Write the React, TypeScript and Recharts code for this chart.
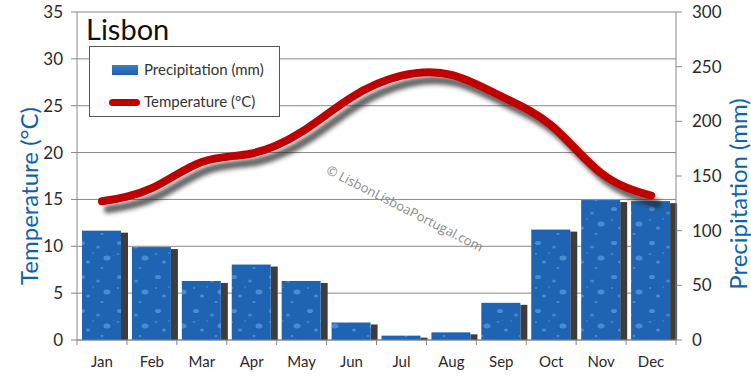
import React from 'react';
import { ComposedChart, Bar, Line, XAxis, YAxis, CartesianGrid } from 'recharts';

const months = ['Jan', 'Feb', 'Mar', 'Apr', 'May', 'Jun', 'Jul', 'Aug', 'Sep', 'Oct', 'Nov', 'Dec'];
const precipitation = [100, 85, 54, 69, 54, 16, 4, 7, 34, 101, 128, 127];
const temperature = [14.8, 16.2, 19.0, 19.9, 22.2, 25.9, 28.2, 28.3, 26.0, 22.9, 17.8, 15.4];
const tempTicks = [0, 5, 10, 15, 20, 25, 30, 35];
const rainTicks = [0, 50, 100, 150, 200, 250, 300];

const data = months.map((month, i) => ({
  month,
  precipitation: precipitation[i],
  temperature: temperature[i]
}));

const W = 751;
const H = 376;
const PLOT_LEFT = 77;
const PLOT_RIGHT = 676;
const PLOT_BOTTOM = 340;
const BAND = (PLOT_RIGHT - PLOT_LEFT) / months.length;
const FONT = 'Lato, "Open Sans", sans-serif';
const BLUE = '#0b63b0';

const MonthTick = (props: any) => {
  const { x, y, payload, index } = props;
  return (
    <g>
      <line x1={x - BAND / 2} x2={x - BAND / 2} y1={PLOT_BOTTOM} y2={PLOT_BOTTOM + 5} stroke="#888" />
      {index === months.length - 1 && (
        <line x1={x + BAND / 2} x2={x + BAND / 2} y1={PLOT_BOTTOM} y2={PLOT_BOTTOM + 5} stroke="#888" />
      )}
      <text x={x} y={y} dy="0.71em" textAnchor="middle" fontSize={15} fill="#2a2a2a" fontFamily={FONT}>
        {payload.value}
      </text>
    </g>
  );
};

// bar with drop texture and dark side shadow
const RainBar = (props: any) => {
  const { x, y, width, height } = props;
  if (!height || height <= 0) return null;
  return (
    <g>
      <rect x={x + width} y={y + 2} width={7} height={Math.max(height - 2, 0)} fill="#3c3c3c" filter="url(#soft)" />
      <rect x={x} y={y} width={width} height={height} fill="url(#drops)" />
    </g>
  );
};

const LegendBox = () => (
  <div
    style={{
      position: 'absolute',
      left: 89,
      top: 46,
      width: 191,
      height: 71,
      border: '1px solid #555',
      background: '#fff',
      fontFamily: FONT,
      fontSize: 15,
      color: '#333',
      boxSizing: 'border-box'
    }}
  >
    <div style={{ position: 'absolute', left: 22, top: 18, width: 26, height: 10, background: 'linear-gradient(#3a80c8, #1d5fa8)' }} />
    <div style={{ position: 'absolute', left: 54, top: 13 }}>Precipitation (mm)</div>
    <div style={{ position: 'absolute', left: 19, top: 52, width: 31, height: 7, borderRadius: 4, background: '#c00000' }} />
    <div style={{ position: 'absolute', left: 54, top: 45 }}>Temperature (°C)</div>
  </div>
);

export default function App() {
  return (
    <div style={{ position: 'absolute', left: 0, top: 0, width: W, height: H, background: '#fff', fontFamily: FONT }}>
      <ComposedChart width={W} height={H} data={data} margin={{ top: 12, right: 0, bottom: 0, left: 0 }}>
        <defs>
          <pattern id="drops" width="38" height="34" patternUnits="userSpaceOnUse">
            <rect width="38" height="34" fill="#1f64b2" />
            <ellipse cx="6" cy="5" rx="3" ry="2" fill="#5a9de0" opacity="0.7" />
            <ellipse cx="22" cy="9" rx="2" ry="1.5" fill="#5a9de0" opacity="0.6" />
            <ellipse cx="31" cy="20" rx="3.5" ry="2.5" fill="#5a9de0" opacity="0.7" />
            <ellipse cx="12" cy="24" rx="2" ry="1.5" fill="#6aa8e6" opacity="0.6" />
            <ellipse cx="26" cy="30" rx="1.5" ry="1" fill="#6aa8e6" opacity="0.6" />
            <ellipse cx="4" cy="16" rx="1.2" ry="1" fill="#6aa8e6" opacity="0.5" />
            <ellipse cx="17" cy="15" rx="1" ry="0.8" fill="#7ab2ea" opacity="0.5" />
          </pattern>
          <filter id="soft" x="-50%" y="-10%" width="200%" height="120%">
            <feGaussianBlur stdDeviation="0.6" />
          </filter>
          <filter id="lineShadow" x="-10%" y="-30%" width="130%" height="180%">
            <feDropShadow dx="6" dy="8" stdDeviation="2" floodColor="#222" floodOpacity="0.7" />
          </filter>
        </defs>
        <CartesianGrid vertical={false} stroke="#888" yAxisId="temp" />
        <XAxis
          dataKey="month"
          height={36}
          axisLine={{ stroke: '#888' }}
          tickLine={false}
          tickSize={6}
          tickMargin={10}
          tick={<MonthTick />}
          interval={0}
        />
        <YAxis
          yAxisId="temp"
          width={PLOT_LEFT}
          domain={[0, 35]}
          ticks={tempTicks}
          axisLine={{ stroke: '#888' }}
          tickLine={{ stroke: '#888' }}
          tickSize={6}
          tickMargin={8}
          tick={{ fontSize: 17, fill: '#2a2a2a', fontFamily: FONT }}
        />
        <YAxis
          yAxisId="rain"
          orientation="right"
          width={W - PLOT_RIGHT}
          domain={[0, 300]}
          ticks={rainTicks}
          axisLine={{ stroke: '#888' }}
          tickLine={{ stroke: '#888' }}
          tickSize={6}
          tickMargin={10}
          tick={{ fontSize: 17, fill: '#2a2a2a', fontFamily: FONT, textAnchor: 'start' }}
        />
        <Bar yAxisId="rain" dataKey="precipitation" barSize={39} shape={<RainBar />} isAnimationActive={false} />
        <Line
          yAxisId="temp"
          type="natural"
          dataKey="temperature"
          stroke="#c00000"
          strokeWidth={8}
          strokeLinecap="round"
          dot={false}
          activeDot={false}
          filter="url(#lineShadow)"
          isAnimationActive={false}
        />
      </ComposedChart>

      <div style={{ position: 'absolute', left: 86, top: 14, fontSize: 29, color: '#111', lineHeight: 1 }}>Lisbon</div>
      <LegendBox />
      <div
        style={{
          position: 'absolute',
          left: 405,
          top: 208,
          transform: 'translate(-50%, -50%) rotate(27deg)',
          whiteSpace: 'nowrap',
          fontFamily: '"Open Sans", sans-serif',
          fontSize: 13,
          color: '#8a8a8a'
        }}
      >
        © LisbonLisboaPortugal.com
      </div>
      <div
        style={{
          position: 'absolute',
          left: 28,
          top: 196,
          transform: 'translate(-50%, -50%) rotate(-90deg)',
          whiteSpace: 'nowrap',
          fontSize: 24,
          color: BLUE
        }}
      >
        Temperature (°C)
      </div>
      <div
        style={{
          position: 'absolute',
          left: 737,
          top: 194,
          transform: 'translate(-50%, -50%) rotate(-90deg)',
          whiteSpace: 'nowrap',
          fontSize: 24,
          color: BLUE
        }}
      >
        Precipitation (mm)
      </div>
    </div>
  );
}
